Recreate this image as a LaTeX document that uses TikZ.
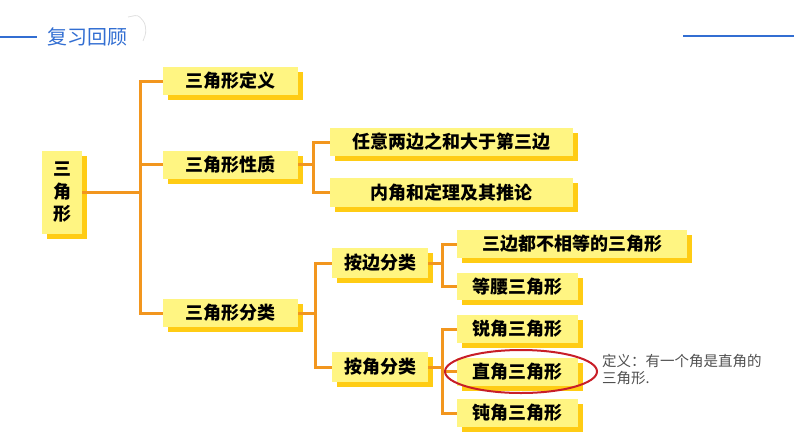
\documentclass[tikz,border=0pt]{standalone}
\usepackage{fontspec}
\setmainfont{Noto Sans CJK SC}
\usetikzlibrary{shadows}

\definecolor{boxyel}{RGB}{255,245,130}
\definecolor{shadowyel}{RGB}{255,204,20}
\definecolor{linkorange}{RGB}{242,150,30}
\definecolor{headblue}{RGB}{50,110,210}
\definecolor{ringred}{RGB}{200,30,40}
\definecolor{notegray}{RGB}{80,80,80}

\tikzset{
  topic/.style={fill=boxyel, inner sep=0pt, align=center,
    font=\fontsize{18}{22.5}\selectfont\bfseries,
    drop shadow={shadow xshift=5pt, shadow yshift=-5pt, fill=shadowyel, opacity=1}},
  link/.style={draw=linkorange, line width=3pt},
}

\begin{document}
\begin{tikzpicture}[x=1pt, y=-1pt]

\useasboundingbox (0,0) rectangle (794,447) ;

\draw [headblue, line width=2.5pt] (0,37) to (37,37) ;
\draw [headblue, line width=2.5pt] (683,36) to (794,36) ;
\node [headblue, anchor=west, inner sep=0pt, font=\fontsize{20}{24}\selectfont] (head) at (47,37) {复习回顾} ;
\draw [black!12, line width=.8pt, rounded corners=3pt] (128,17) to (138,15) to (145,23) to (146,33) to (143,41) ;

\node [topic, minimum width=40pt, minimum height=83pt] (tri) at (62,192.5) {三\\角\\形} ;

\node [topic, minimum width=135pt, minimum height=28pt] (def) at (230.5,81) {三角形定义} ;
\node [topic, minimum width=135pt, minimum height=28pt] (prop) at (230.5,164.5) {三角形性质} ;
\node [topic, minimum width=135pt, minimum height=28pt] (cls) at (230.5,313) {三角形分类} ;

\node [topic, minimum width=243pt, minimum height=28pt] (sides) at (451.5,142) {任意两边之和大于第三边} ;
\node [topic, minimum width=243pt, minimum height=29pt] (angsum) at (451.5,192.5) {内角和定理及其推论} ;

\node [topic, minimum width=96pt, minimum height=30pt] (byside) at (380,263) {按边分类} ;
\node [topic, minimum width=96pt, minimum height=30pt] (byangle) at (380,367) {按角分类} ;

\node [topic, minimum width=230pt, minimum height=28pt] (scalene) at (572,244) {三边都不相等的三角形} ;
\node [topic, minimum width=121pt, minimum height=27pt] (isos) at (517.5,286.5) {等腰三角形} ;
\node [topic, minimum width=121pt, minimum height=28pt] (acute) at (517.5,329) {锐角三角形} ;
\node [topic, minimum width=121pt, minimum height=28pt] (right) at (517.5,371.5) {直角三角形} ;
\node [topic, minimum width=121pt, minimum height=28pt] (obtuse) at (517.5,413) {钝角三角形} ;

% junctions
\coordinate (j1) at (140,0) ;
\coordinate (j2) at (313,0) ;
\coordinate (j3) at (315,0) ;
\coordinate (j4) at (442,0) ;

\draw [link] (tri.east) to (tri.east -| j1) ;
\foreach \n in {def,prop,cls} \draw [link] (tri.east -| j1) |- (\n.west) ;

\draw [link] (prop.east) to (prop.east -| j2) ;
\foreach \n in {sides,angsum} \draw [link] (prop.east -| j2) |- (\n.west) ;

\draw [link] (cls.east) to (cls.east -| j3) ;
\foreach \n in {byside,byangle} \draw [link] (cls.east -| j3) |- (\n.west) ;

\draw [link] (byside.east) to (byside.east -| j4) ;
\foreach \n in {scalene,isos} \draw [link] (byside.east -| j4) |- (\n.west) ;

\draw [link] (byangle.east) to (byangle.east -| j4) ;
\foreach \n in {acute,right,obtuse} \draw [link] (byangle.east -| j4) |- (\n.west) ;

\draw [ringred, line width=2pt] (521,371.5) ellipse [x radius=76pt, y radius=21.5pt] ;

\node [notegray, anchor=north west, inner sep=0pt, align=left, font=\fontsize{14.5}{17}\selectfont] (note) at (602,354) {定义：有一个角是直角的\\三角形.} ;

\end{tikzpicture}
\end{document}
